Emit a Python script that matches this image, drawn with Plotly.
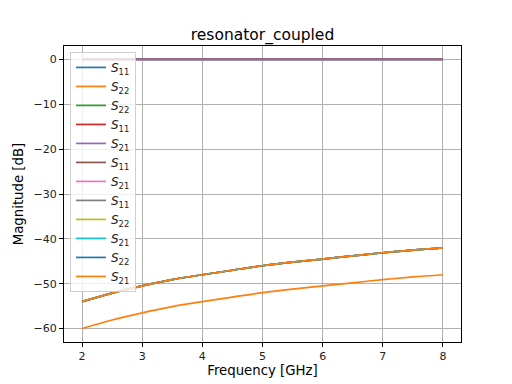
import plotly.graph_objects as go

freq_ghz = [2.0, 2.5, 3.0, 3.5, 4.0, 4.5, 5.0, 5.5, 6.0, 6.5, 7.0, 7.5, 8.0]
mag_top = [0.0, 0.0, 0.0, 0.0, 0.0, 0.0, 0.0, 0.0, 0.0, 0.0, 0.0, 0.0, 0.0]
mag_mid = [-54.0, -52.1, -50.5, -49.1, -48.0, -47.0, -46.0, -45.2, -44.5, -43.8, -43.1, -42.5, -42.0]
mag_low = [-60.0, -58.1, -56.5, -55.1, -54.0, -53.0, -52.0, -51.2, -50.5, -49.8, -49.1, -48.5, -48.0]

labels = ["11", "22", "22", "11", "21", "11", "21", "11", "22", "21", "22", "21"]
curve_of = ["top", "low", "top", "top", "top", "mid", "mid", "mid", "mid", "mid", "mid", "mid"]
colors = ["#1f77b4", "#ff7f0e", "#2ca02c", "#d62728", "#9467bd", "#8c564b",
          "#e377c2", "#7f7f7f", "#bcbd22", "#17becf", "#1f77b4", "#ff7f0e"]
curves = {"top": mag_top, "mid": mag_mid, "low": mag_low}

fig = go.Figure()
for lab, cv, col in zip(labels, curve_of, colors):
    fig.add_trace(go.Scatter(
        x=freq_ghz, y=curves[cv], mode="lines",
        line=dict(color=col, width=1.7, shape="spline"),
        name=f"<i>S</i><sub>{lab}</sub>",
    ))

font = "DejaVu Sans"
axis_common = dict(
    showgrid=True, gridcolor="#b0b0b0", gridwidth=0.9,
    zeroline=False, showline=True, linecolor="black", linewidth=1,
    mirror=True, ticks="outside", ticklen=4, tickcolor="black",
    tickfont=dict(family=font, size=11, color="#222"),
    automargin=False,
)
fig.update_layout(
    width=504, height=376,
    paper_bgcolor="white", plot_bgcolor="white",
    margin=dict(l=56, r=51, t=38, b=42),
    title=dict(text="resonator_coupled", x=0.5, xanchor="center", y=1 - 27 / 376, yanchor="middle",
               xref="paper", font=dict(family=font, size=15.5, color="black")),
    xaxis=dict(range=[1.7, 8.3], tickvals=[2, 3, 4, 5, 6, 7, 8],
               title=dict(text="Frequency [GHz]", font=dict(family=font, size=13.3, color="black"), standoff=2),
               **axis_common),
    yaxis=dict(range=[-63, 3], tickvals=[0, -10, -20, -30, -40, -50, -60],
               title=dict(text="Magnitude [dB]", font=dict(family=font, size=13.3, color="black"), standoff=6),
               **axis_common),
    legend=dict(x=0.015, y=0.98, xanchor="left", yanchor="top",
                bgcolor="rgba(255,255,255,0.8)", bordercolor="#d0d0d0", borderwidth=1,
                font=dict(family=font, size=12, color="#222")),
    showlegend=True,
)
fig.write_html("out.html")
